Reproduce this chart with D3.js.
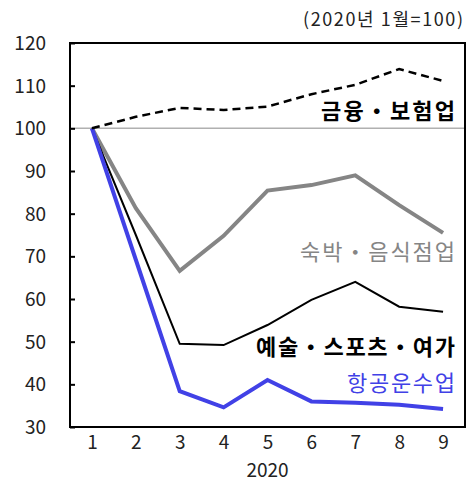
<!DOCTYPE html>
<html><head><meta charset="utf-8">
<script src="https://cdn.jsdelivr.net/npm/d3@7"></script>
<style>body{margin:0;background:#fff}text{font-family:"Noto Sans CJK KR","Noto Sans",sans-serif}</style>
</head><body><svg id="c" width="470" height="482"></svg>
<script>
const months = ["1","2","3","4","5","6","7","8","9"];
const yTicks = [30,40,50,60,70,80,90,100,110,120];
const finance = [100,102.7,104.8,104.3,105.1,108.0,110.2,113.9,111.1];
const lodging = [100,81.3,66.6,74.8,85.4,86.7,89.0,82.0,75.5];
const arts = [100,75.0,49.5,49.2,53.9,59.8,64.0,58.2,57.0];
const airline = [100,69.2,38.4,34.6,41.0,36.0,35.7,35.2,34.2];
const seriesNames = ["금융・보험업","숙박・음식점업","예술・스포츠・여가","항공운수업"];

const svg = d3.select("#c");
const L=70,R=465,T=43,B=427;
const x = d3.scalePoint().domain(months).range([L,R]).padding(0.5);
const y = d3.scaleLinear().domain([30,120]).range([B,T]);

svg.append("line").attr("x1",L).attr("x2",R).attr("y1",y(100)).attr("y2",y(100))
  .attr("stroke","#b0b0b0").attr("stroke-width",1.5);

const yAxis = svg.append("g").attr("transform",`translate(${L},0)`)
  .call(d3.axisRight(y).tickValues(yTicks).tickSize(5).tickFormat(""));
yAxis.select(".domain").remove();
yAxis.selectAll("line").attr("stroke","#000").attr("stroke-width",2);
svg.append("g").selectAll("text").data(yTicks).join("text")
  .attr("x",46).attr("y",d=>y(d)).attr("dy","0.36em").attr("text-anchor","end")
  .attr("font-size",19).attr("fill","#222").text(d=>d);

const xAxis = svg.append("g").attr("transform",`translate(0,${B})`)
  .call(d3.axisBottom(x).tickSize(0).tickPadding(8));
xAxis.select(".domain").remove();
xAxis.selectAll("text").attr("font-size",19).attr("fill","#222")
  .style("font-family",'"Noto Sans CJK KR","Noto Sans",sans-serif');
svg.append("text").attr("x",x("5")).attr("y",477).attr("text-anchor","middle")
  .attr("font-size",19).attr("fill","#222").text("2020");

const line = d3.line().x((d,i)=>x(months[i])).y(d=>y(d));
svg.append("path").datum(lodging).attr("d",line).attr("fill","none")
  .attr("stroke","#858585").attr("stroke-width",4);
svg.append("path").datum(arts).attr("d",line).attr("fill","none")
  .attr("stroke","#000").attr("stroke-width",2);
svg.append("path").datum(airline).attr("d",line).attr("fill","none")
  .attr("stroke","#4141e6").attr("stroke-width",4);
svg.append("path").datum(finance).attr("d",line).attr("fill","none")
  .attr("stroke","#000").attr("stroke-width",2.5).attr("stroke-dasharray","8,5");

svg.append("rect").attr("x",L).attr("y",T).attr("width",R-L).attr("height",B-T)
  .attr("fill","none").attr("stroke","#000").attr("stroke-width",2);

svg.append("text").attr("x",463).attr("y",26).attr("text-anchor","end")
  .attr("font-size",18).attr("textLength",160).attr("lengthAdjust","spacing")
  .attr("fill","#222").text("(2020년 1월=100)");

const lab = [
  {t:seriesNames[0],y:111,c:"#000",w:"bold",len:134},
  {t:seriesNames[1],y:252,c:"#858585",w:"normal",len:155},
  {t:seriesNames[2],y:347,c:"#000",w:"bold",len:199},
  {t:seriesNames[3],y:383,c:"#4141e6",w:"normal",len:108}
];
svg.append("g").selectAll("text").data(lab).join("text")
  .attr("x",455).attr("y",d=>d.y).attr("dy","0.36em").attr("text-anchor","end")
  .attr("textLength",d=>d.len).attr("lengthAdjust","spacing")
  .attr("font-size",22).attr("font-weight",d=>d.w).attr("fill",d=>d.c).text(d=>d.t);
</script></body></html>
